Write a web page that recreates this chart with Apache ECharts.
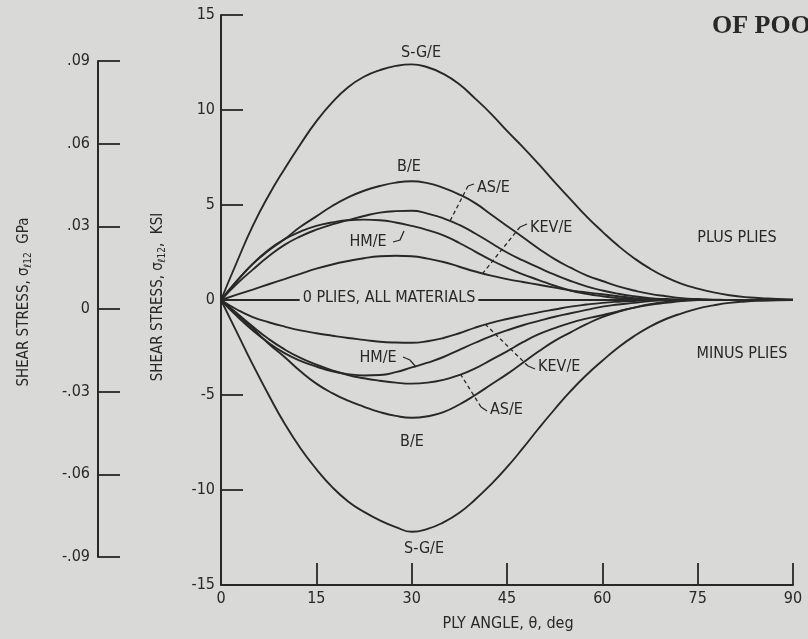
<!DOCTYPE html>
<html><head><meta charset="utf-8">
<script src="https://cdn.jsdelivr.net/npm/echarts@6/dist/echarts.min.js"></script>
<style>html,body{margin:0;padding:0;background:#d9d9d7;}#c{width:808px;height:639px;}</style>
</head><body><div id="c"></div>
<script>
// ---- data ----
const angles = [0,2.5,5,7.5,10,12.5,15,17.5,20,22.5,25,27.5,30,32.5,35,37.5,40,42.5,45,47.5,50,52.5,55,57.5,60,62.5,65,67.5,70,72.5,75,77.5,80,82.5,85,87.5,90];
const sgePlus  = [0,2.0,3.9,5.5,6.9,8.2,9.4,10.4,11.2,11.75,12.1,12.32,12.4,12.25,11.9,11.35,10.6,9.8,8.9,8.05,7.15,6.2,5.3,4.4,3.6,2.85,2.2,1.65,1.2,0.85,0.6,0.4,0.25,0.15,0.1,0.05,0.03];
const bePlus   = [0,1.0,1.9,2.6,3.2,3.85,4.4,4.95,5.4,5.75,6.0,6.18,6.25,6.15,5.9,5.55,5.1,4.5,3.9,3.3,2.7,2.15,1.7,1.3,1.0,0.72,0.5,0.32,0.2,0.1,0.05,0.02,0,0,0,0,0];
const asPlus   = [0,0.85,1.6,2.3,2.9,3.35,3.7,3.98,4.2,4.42,4.6,4.68,4.7,4.55,4.3,3.95,3.5,3.0,2.5,2.08,1.7,1.33,1.0,0.72,0.5,0.33,0.2,0.1,0.05,0.02,0,0,0,0,0,0,0];
const hmPlus   = [0,1.0,1.9,2.65,3.2,3.6,3.9,4.08,4.2,4.23,4.2,4.08,3.9,3.68,3.4,3.0,2.55,2.1,1.7,1.35,1.05,0.75,0.5,0.33,0.2,0.1,0.05,0.02,0,0,0,0,0,0,0,0,0];
const kevPlus  = [0,0.28,0.55,0.83,1.1,1.38,1.65,1.87,2.05,2.2,2.3,2.33,2.3,2.18,2.0,1.75,1.5,1.28,1.1,0.95,0.8,0.65,0.5,0.4,0.3,0.2,0.1,0.05,0,0,0,0,0,0,0,0,0];
const sgeMinus = [0,-1.7,-3.4,-5.0,-6.5,-7.8,-8.9,-9.85,-10.6,-11.15,-11.6,-11.95,-12.2,-12.05,-11.7,-11.2,-10.5,-9.7,-8.8,-7.8,-6.75,-5.75,-4.8,-3.95,-3.2,-2.5,-1.9,-1.4,-1.0,-0.7,-0.45,-0.28,-0.15,-0.08,-0.04,-0.02,0];
const beMinus  = [0,-0.75,-1.5,-2.3,-3.0,-3.75,-4.4,-4.9,-5.3,-5.62,-5.9,-6.1,-6.2,-6.12,-5.9,-5.5,-5.0,-4.45,-3.9,-3.3,-2.7,-2.15,-1.7,-1.27,-0.9,-0.62,-0.4,-0.22,-0.1,-0.04,0,0,0,0,0,0,0];
const asMinus  = [0,-0.7,-1.4,-2.05,-2.6,-3.05,-3.4,-3.7,-3.95,-4.12,-4.25,-4.35,-4.4,-4.35,-4.2,-3.95,-3.6,-3.15,-2.7,-2.22,-1.8,-1.48,-1.2,-0.98,-0.8,-0.6,-0.4,-0.25,-0.15,-0.06,0,0,0,0,0,0,0];
const hmMinus  = [0,-0.85,-1.6,-2.25,-2.8,-3.2,-3.5,-3.75,-3.9,-3.97,-3.95,-3.8,-3.55,-3.3,-3.0,-2.62,-2.25,-1.9,-1.6,-1.33,-1.1,-0.88,-0.7,-0.52,-0.35,-0.24,-0.15,-0.06,0,0,0,0,0,0,0,0,0];
const kevMinus = [0,-0.5,-0.9,-1.17,-1.4,-1.6,-1.75,-1.88,-2.0,-2.1,-2.2,-2.24,-2.25,-2.17,-2.0,-1.75,-1.45,-1.2,-1.0,-0.82,-0.65,-0.5,-0.35,-0.24,-0.15,-0.09,-0.05,-0.02,0,0,0,0,0,0,0,0,0];
const zeroPlies = [0,0,0,0,0,0,0,0,0,0,0,0,0,0,0,0,0,0,0,0,0,0,0,0,0,0,0,0,0,0,0,0,0,0,0,0,0];
const ksiTicks = ['-15','-10','-5','0','5','10','15'];
const gpaTicks = ['-.09','-.06','-.03','0','.03','.06','.09'];
const angleTicks = ['0','15','30','45','60','75','90'];

const INK = '#282828';
const BG = '#d9d9d7';
const FONT = "'Liberation Sans Narrow','DejaVu Sans Condensed','Liberation Sans',sans-serif";
const pairs = arr => angles.map((a,i)=>[a,arr[i]]);
const mk = (name, arr) => ({
  name, type:'line', xAxisIndex:0, yAxisIndex:0, data:pairs(arr), smooth:0.5,
  showSymbol:false, symbol:'none', silent:true,
  lineStyle:{color:INK, width:1.9}, z:3
});

const chart = echarts.init(document.getElementById('c'), null, {renderer:'canvas'});

function txt(text, x, y, opts) {
  return Object.assign({type:'text', x, y, z:50, style:Object.assign({
    text, fill:INK, font:'16px '+FONT, textAlign:'center', textVerticalAlign:'middle'
  }, opts||{})});
}
function lead(points, dashed) {
  return {type:'polyline', z:40, shape:{points}, style:{stroke:INK, lineWidth:1.3, fill:null, lineDash: dashed ? [4,3] : null}};
}

const option = {
  backgroundColor:BG,
  animation:false,
  grid:[
    {left:221, right:15, top:15, bottom:54},
    {left:98, width:24, top:61, bottom:82}
  ],
  xAxis:[
    {type:'value', gridIndex:0, min:0, max:90, interval:15,
     axisLine:{show:true, onZero:false, lineStyle:{color:INK, width:2}},
     axisTick:{show:true, inside:true, length:22, lineStyle:{color:INK, width:1.8}},
     axisLabel:{color:INK, fontSize:16, fontFamily:FONT, margin:6,
       formatter:v=>angleTicks[Math.round(v/15)]},
     splitLine:{show:false}},
    {type:'value', gridIndex:1, min:0, max:1, show:false}
  ],
  yAxis:[
    {type:'value', gridIndex:0, min:-15, max:15, interval:5,
     axisLine:{show:true, onZero:false, lineStyle:{color:INK, width:2}},
     axisTick:{show:true, inside:true, length:22, lineStyle:{color:INK, width:1.8}},
     axisLabel:{color:INK, fontSize:16, fontFamily:FONT, margin:6,
       formatter:v=>ksiTicks[Math.round(v/5)+3]},
     splitLine:{show:false}},
    {type:'value', gridIndex:1, min:-0.09, max:0.09, interval:0.03,
     axisLine:{show:true, onZero:false, lineStyle:{color:INK, width:2}},
     axisTick:{show:true, inside:true, length:22, lineStyle:{color:INK, width:1.8}},
     axisLabel:{color:INK, fontSize:16, fontFamily:FONT, margin:8,
       formatter:v=>gpaTicks[Math.round(v/0.03)+3]},
     splitLine:{show:false}}
  ],
  series:[
    mk('S-G/E +', sgePlus), mk('B/E +', bePlus), mk('AS/E +', asPlus),
    mk('HM/E +', hmPlus), mk('KEV/E +', kevPlus),
    mk('S-G/E -', sgeMinus), mk('B/E -', beMinus), mk('AS/E -', asMinus),
    mk('HM/E -', hmMinus), mk('KEV/E -', kevMinus),
    mk('0 plies', zeroPlies)
  ],
  graphic:[
    // axis titles
    {type:'text', x:24, y:302, rotation:Math.PI/2, z:50, style:{
      text:'{a|SHEAR STRESS, σ}{s|ℓ12}{a|  GPa}', textAlign:'center', textVerticalAlign:'middle',
      rich:{a:{fill:INK, fontSize:15, fontFamily:FONT}, s:{fill:INK, fontSize:10, fontFamily:FONT, padding:[9,0,0,0]}}}},
    {type:'text', x:158, y:297, rotation:Math.PI/2, z:50, style:{
      text:'{a|SHEAR STRESS, σ}{s|ℓ12}{a|,  KSI}', textAlign:'center', textVerticalAlign:'middle',
      rich:{a:{fill:INK, fontSize:15, fontFamily:FONT}, s:{fill:INK, fontSize:10, fontFamily:FONT, padding:[9,0,0,0]}}}},
    txt('PLY ANGLE, θ, deg', 508, 624, {font:'16px '+FONT}),
    // corner header
    txt('ORIGINAL PAGE IS', 712, -9, {font:'bold 26px "Liberation Serif",serif', textAlign:'left'}),
    txt('OF POOR QUALITY', 712, 26, {font:'bold 26px "Liberation Serif",serif', textAlign:'left'}),
    // curve labels
    txt('S-G/E', 421, 53), txt('B/E', 409, 167),
    txt('AS/E', 477, 188, {textAlign:'left'}),
    txt('KEV/E', 530, 228, {textAlign:'left'}),
    txt('HM/E', 368, 242),
    txt('PLUS PLIES', 737, 238),
    txt('MINUS PLIES', 742, 354),
    txt('0 PLIES, ALL MATERIALS', 389, 298, {backgroundColor:BG, padding:[0,3,0,3]}),
    txt('HM/E', 378, 358),
    txt('KEV/E', 538, 367, {textAlign:'left'}),
    txt('AS/E', 490, 410, {textAlign:'left'}),
    txt('B/E', 412, 442), txt('S-G/E', 424, 549),
    // leaders
    lead([[474,184],[468,186]], false), lead([[468,186],[450,221]], true),
    lead([[527,224],[520,227]], false), lead([[520,227],[483,273]], true),
    lead([[393,242],[400,240],[404,231]], false),
    lead([[403,357],[410,360],[416,367]], false),
    lead([[535,369],[528,366]], false), lead([[528,366],[486,325]], true),
    lead([[487,411],[481,407]], false), lead([[481,407],[461,375]], true)
  ]
};
chart.setOption(option);
</script>
</body></html>
